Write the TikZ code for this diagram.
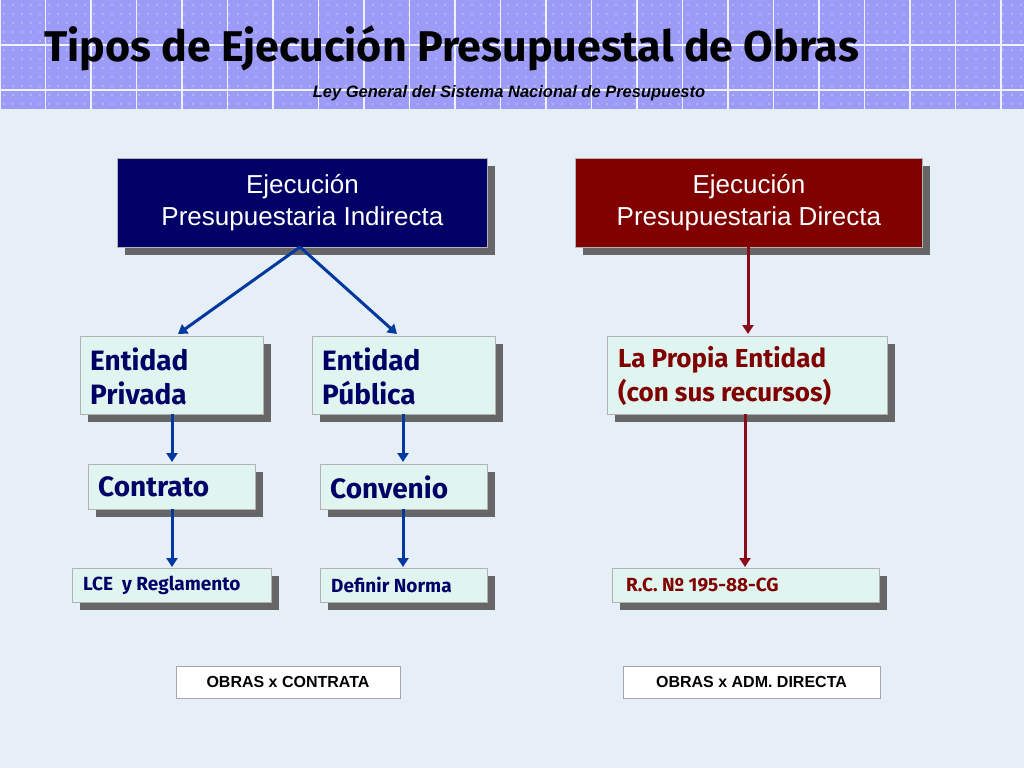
\documentclass[tikz,border=0pt]{standalone}
\usepackage{fontspec}
\setmainfont{Liberation Sans}
\newfontfamily\ttl{Fira Sans}
\usetikzlibrary{arrows.meta}
\definecolor{bg}{HTML}{E6EEF8}
\definecolor{hdr}{HTML}{9C9CF8}
\definecolor{navy}{HTML}{000066}
\definecolor{dred}{HTML}{800000}
\definecolor{mint}{HTML}{E0F5F0}
\definecolor{arb}{HTML}{0038A0}
\definecolor{arr}{HTML}{8B0A1A}
\tikzset{
 sh/.style={fill=gray!80!black},
 dk/.style={draw=gray!60,line width=0.8pt,text=white,align=center,font=\fontsize{26}{32}\selectfont},
 lt/.style={draw=gray!60,line width=0.8pt,fill=mint,align=left,font=\ttl\bfseries},
 lbl/.style={align=left,anchor=west,inner sep=0pt},
 ob/.style={draw=gray!70,fill=white,font=\bfseries\fontsize{16}{18}\selectfont},
 ab/.style={arb,line width=3pt,-{Triangle[length=9pt,width=11pt]}},
 ar/.style={arr,line width=3pt,-{Triangle[length=9pt,width=11pt]}},
}
\begin{document}
\begin{tikzpicture}[x=1pt,y=-1pt]
\fill[bg] (0,0) rectangle (1024,768);
\useasboundingbox (0,0) rectangle (1024,768);
\fill[hdr] (0,0) rectangle (1024,109);
\foreach \x in {0,9,...,1024}{\foreach \y in {5,14,...,105}{\fill[white,opacity=0.45] (\x+4,\y) circle (0.9);}}
\foreach \x in {0,45.5,...,1024}{\draw[white!85!hdr,line width=1.2pt] (\x,0) -- (\x,109);}
\foreach \y in {45,90}{\draw[white!85!hdr,line width=1.2pt] (0,\y) -- (1024,\y);}
\node[font=\ttl\bfseries\fontsize{43}{46}\selectfont,anchor=west,inner sep=0pt] (title) at (44,48) {Tipos de Ejecución Presupuestal de Obras};
\node[font=\bfseries\itshape\fontsize{16.5}{18}\selectfont] (sub) at (509,93) {Ley General del Sistema Nacional de Presupuesto};
% dark boxes
\fill[sh] (125,166) rectangle (495,255);
\node[dk,fill=navy,minimum width=370,minimum height=89,anchor=north west,inner sep=0pt] (ind) at (117,158) {Ejecución\\Presupuestaria Indirecta};
\fill[sh] (583,166) rectangle (930,255);
\node[dk,fill=dred,minimum width=347,minimum height=89,anchor=north west,inner sep=0pt] (dir) at (575,158) {Ejecución\\Presupuestaria Directa};
% light boxes
\fill[sh] (88,344) rectangle (271,422);
\node[lt,minimum width=183,minimum height=78,anchor=north west,inner sep=0pt] (priv) at (80,336) {};
\node[lbl,text=navy,font=\ttl\bfseries\fontsize{28}{34}\selectfont] at (90,376) {Entidad\\Privada};
\fill[sh] (320,344) rectangle (503,422);
\node[lt,minimum width=183,minimum height=78,anchor=north west,inner sep=0pt] (pub) at (312,336) {};
\node[lbl,text=navy,font=\ttl\bfseries\fontsize{28}{34}\selectfont] at (322,376) {Entidad\\Pública};
\fill[sh] (615,344) rectangle (895,422);
\node[lt,minimum width=280,minimum height=78,anchor=north west,inner sep=0pt] (prop) at (607,336) {};
\node[lbl,text=dred,font=\ttl\bfseries\fontsize{26}{34}\selectfont] at (618,376) {La Propia Entidad\\(con sus recursos)};
\fill[sh] (96,472) rectangle (263,517);
\node[lt,minimum width=167,minimum height=45,anchor=north west,inner sep=0pt] (con) at (88,464) {};
\node[lbl,text=navy,font=\ttl\bfseries\fontsize{28}{30}\selectfont] at (98,487) {Contrato};
\fill[sh] (328,472) rectangle (495,517);
\node[lt,minimum width=167,minimum height=45,anchor=north west,inner sep=0pt] (conv) at (320,464) {};
\node[lbl,text=navy,font=\ttl\bfseries\fontsize{28}{30}\selectfont] at (330,487) {Convenio};
\fill[sh] (80,576) rectangle (279,610);
\node[lt,minimum width=199,minimum height=34,anchor=north west,inner sep=0pt] (lce) at (72,568) {};
\node[lbl,text=navy,font=\ttl\bfseries\fontsize{19}{20}\selectfont] at (83,585) {LCE~ y Reglamento};
\fill[sh] (328,576) rectangle (495,610);
\node[lt,minimum width=167,minimum height=34,anchor=north west,inner sep=0pt] (def) at (320,568) {};
\node[lbl,text=navy,font=\ttl\bfseries\fontsize{19}{20}\selectfont] at (331,585) {Definir Norma};
\fill[sh] (620,576) rectangle (887,610);
\node[lt,minimum width=267,minimum height=34,anchor=north west,inner sep=0pt] (rc) at (612,568) {};
\node[lbl,text=dred,font=\ttl\bfseries\fontsize{19}{20}\selectfont] at (626,585) {R.C. Nº 195-88-CG};
% bottom labels
\node[ob,minimum width=224,minimum height=32] (o1) at (288,682) {OBRAS x CONTRATA};
\node[ob,minimum width=257,minimum height=32] (o2) at (751.5,682) {OBRAS x ADM. DIRECTA};
% arrows
\coordinate (s) at (300,247);
\draw[ab] (s) -- (178,334);
\draw[ab] (s) -- (397,334);
\draw[ar] (748,247) -- (748,334);
\draw[ab] (172,414) -- (172,462);
\draw[ab] (172,509) -- (172,567);
\draw[ab] (403,414) -- (403,462);
\draw[ab] (403,509) -- (403,567);
\draw[ar] (745,414) -- (745,567);
\end{tikzpicture}
\end{document}
